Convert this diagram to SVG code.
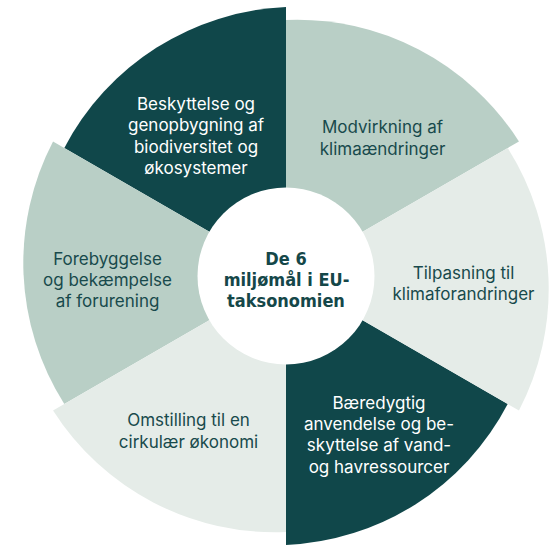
<svg xmlns="http://www.w3.org/2000/svg" width="555" height="547" viewBox="0 0 555 547">
<style>
.dark{fill:#10474a}
.sage{fill:#b9cfc6}
.light{fill:#e5ece8}
text{font-family:Inter,"Liberation Sans",Arial,sans-serif;font-size:17px;text-anchor:middle}
.tw{fill:#ffffff}
.td{fill:#184a4c}
.center{font-family:"DejaVu Sans Condensed","DejaVu Sans",sans-serif;font-stretch:condensed;font-weight:700;font-size:18px;fill:#154749}
</style>
<rect width="555" height="547" fill="#ffffff"/>
<g id="node-modvirkning">
<path class="sage" d="M286 276 L518.96 141.5 A263 263 0 0 0 286 20 Z"/>
<text class="td"><tspan x="382.5" y="133">Modvirkning af</tspan><tspan x="382.5" y="154.5">klimaændringer</tspan></text>
</g>
<g id="node-beskyttelse">
<path class="dark" d="M286 276 L286 7 A263 263 0 0 0 64.3 148 Z"/>
<text class="tw"><tspan x="196" y="110">Beskyttelse og</tspan><tspan x="196" y="131.4">genopbygning af</tspan><tspan x="196" y="152.8">biodiversitet og</tspan><tspan x="196" y="174.2">økosystemer</tspan></text>
</g>
<g id="node-forebyggelse">
<path class="sage" d="M286 276 L53.04 141.5 A263 263 0 0 0 64.3 404 Z"/>
<text class="td"><tspan x="107.5" y="264.7">Forebyggelse</tspan><tspan x="107.5" y="286">og bekæmpelse</tspan><tspan x="107.5" y="307.3">af forurening</tspan></text>
</g>
<g id="node-omstilling">
<path class="light" d="M286 276 L53.04 410.5 A263 263 0 0 0 286 532 Z"/>
<text class="td"><tspan x="188.5" y="426.3">Omstilling til en</tspan><tspan x="188.5" y="447.6">cirkulær økonomi</tspan></text>
</g>
<g id="node-baeredygtig">
<path class="dark" d="M286 276 L286 545 A263 263 0 0 0 507.7 404 Z"/>
<text class="tw"><tspan x="379" y="408.5">Bæredygtig</tspan><tspan x="379" y="429.8">anvendelse og be-</tspan><tspan x="379" y="451.2">skyttelse af vand-</tspan><tspan x="379" y="472.5">og havressourcer</tspan></text>
</g>
<g id="node-tilpasning">
<path class="light" d="M286 276 L518.96 410.5 A263 263 0 0 0 507.7 148 Z"/>
<text class="td"><tspan x="463.5" y="278.9">Tilpasning til</tspan><tspan x="463.5" y="300.2">klimaforandringer</tspan></text>
</g>
<g id="node-center">
<circle cx="286" cy="276" r="88.5" fill="#ffffff"/>
<text class="center"><tspan x="286" y="264.7">De 6</tspan><tspan x="286.5" y="286">miljømål i EU-</tspan><tspan x="286" y="307.3">taksonomien</tspan></text>
</g>
</svg>
